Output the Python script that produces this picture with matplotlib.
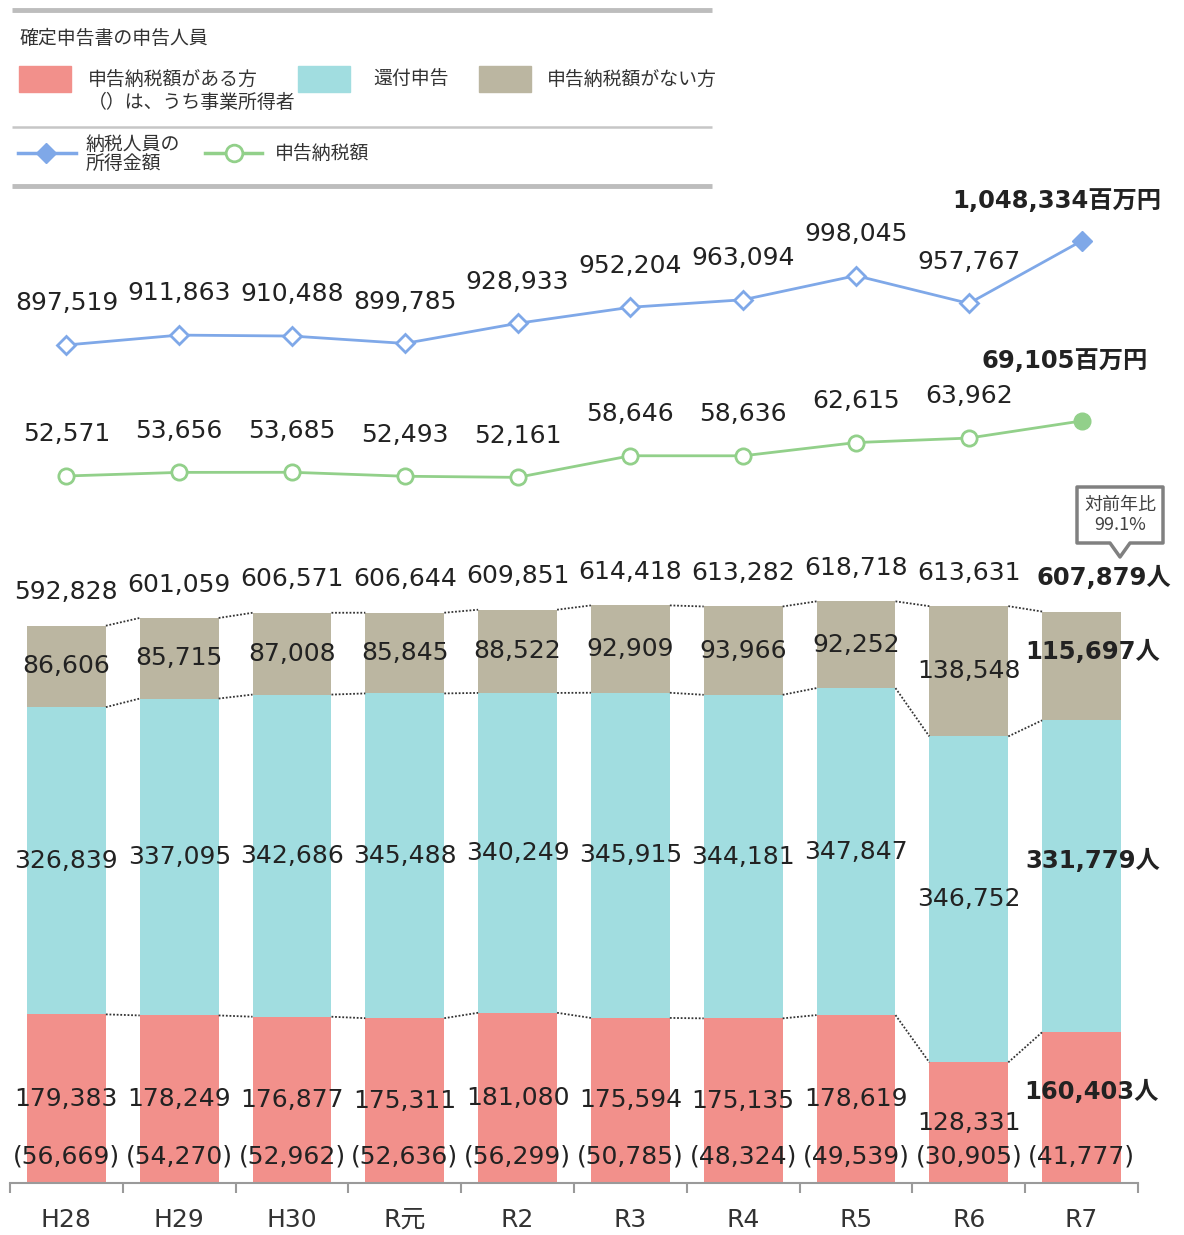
import matplotlib
matplotlib.use("Agg")
import matplotlib.pyplot as plt
from matplotlib.patches import Rectangle, Polygon
import numpy as np

plt.rcParams['font.family'] = ['DejaVu Sans', 'Noto Sans CJK JP']

# ---------------- data ----------------
years = ['H28', 'H29', 'H30', 'R元', 'R2', 'R3', 'R4', 'R5', 'R6', 'R7']
tax_payers = [179383, 178249, 176877, 175311, 181080, 175594, 175135, 178619, 128331, 160403]
business = [56669, 54270, 52962, 52636, 56299, 50785, 48324, 49539, 30905, 41777]
refund = [326839, 337095, 342686, 345488, 340249, 345915, 344181, 347847, 346752, 331779]
no_tax = [86606, 85715, 87008, 85845, 88522, 92909, 93966, 92252, 138548, 115697]
totals = [592828, 601059, 606571, 606644, 609851, 614418, 613282, 618718, 613631, 607879]
income = [897519, 911863, 910488, 899785, 928933, 952204, 963094, 998045, 957767, 1048334]
tax_amount = [52571, 53656, 53685, 52493, 52161, 58646, 58636, 62615, 63962, 69105]
yoy_text = '対前年比\n99.1%'

# ---------------- styles ----------------
PINK = '#F2908B'
CYAN = '#A1DDE0'
TAN = '#BBB6A1'
BLUE = '#7FA8E8'
GREEN = '#92D08A'
TXT = '#222222'
W, H = 1184, 1235
fig = plt.figure(figsize=(W / 100, H / 100), dpi=100)


def ax_px(left, top, right, bottom, **kw):
    return fig.add_axes([left / W, 1 - bottom / H, (right - left) / W, (bottom - top) / H], **kw)


n = len(years)
x = np.arange(n)

# ---------------- bars ----------------
axb = ax_px(10, 540, 1138, 1183)
axb.set_xlim(-0.5, n - 0.5)
axb.set_ylim(0, 684000)
bw = 0.70
p = np.array(tax_payers)
r = np.array(refund)
g = np.array(no_tax)
axb.bar(x, p, bw, color=PINK, zorder=2)
axb.bar(x, r, bw, bottom=p, color=CYAN, zorder=2)
axb.bar(x, g, bw, bottom=p + r, color=TAN, zorder=2)

levels = [p, p + r, p + r + g]
for lev in levels:
    for i in range(n - 1):
        axb.plot([x[i] + bw / 2, x[i + 1] - bw / 2], [lev[i], lev[i + 1]],
                 color='#333333', lw=1.3, ls=(0, (1, 1)), zorder=3)

fs = 18
fsb = 17.5
for i in range(n):
    last = (i == n - 1)
    if not last:
        axb.text(x[i], p[i] / 2, f'{p[i]:,}', ha='center', va='center', fontsize=fs, color=TXT, zorder=4)
        axb.text(x[i], p[i] + r[i] / 2, f'{r[i]:,}', ha='center', va='center', fontsize=fs, color=TXT, zorder=4)
        axb.text(x[i], p[i] + r[i] + g[i] / 2, f'{g[i]:,}', ha='center', va='center', fontsize=fs, color=TXT, zorder=4)
        axb.annotate(f'{totals[i]:,}', (x[i], totals[i]), xytext=(0, 24), textcoords='offset points',
                     ha='center', va='center', fontsize=fs, color=TXT)
    else:
        axb.annotate(f'{p[i]:,}人', (x[i] + 0.09, p[i] / 2), xytext=(0, 11), textcoords='offset points',
                     ha='center', va='center', fontsize=fsb, fontweight='bold', color=TXT, zorder=4)
        axb.annotate(f'{r[i]:,}人', (x[i] + 0.1, p[i] + r[i] / 2), xytext=(0, 11), textcoords='offset points',
                     ha='center', va='center', fontsize=fsb, fontweight='bold', color=TXT, zorder=4)
        axb.annotate(f'{g[i]:,}人', (x[i] + 0.1, p[i] + r[i] + g[i] / 2), xytext=(0, 10), textcoords='offset points',
                     ha='center', va='center', fontsize=fsb, fontweight='bold', color=TXT, zorder=4)
        axb.annotate(f'{totals[i]:,}人', (x[i] + 0.2, totals[i]), xytext=(0, 24), textcoords='offset points',
                     ha='center', va='center', fontsize=fsb, fontweight='bold', color=TXT)
    axb.annotate(f'({business[i]:,})', (x[i], 0), xytext=(0, 19), textcoords='offset points',
                 ha='center', va='center', fontsize=fs, color=TXT, zorder=4)

for s in ['top', 'right', 'left']:
    axb.spines[s].set_visible(False)
axb.spines['bottom'].set_color('#9a9a9a')
axb.spines['bottom'].set_linewidth(1.5)
axb.set_yticks([])
axb.set_xticks(np.arange(-0.5, n, 1.0))
axb.set_xticklabels([])
axb.tick_params(axis='x', which='major', length=7, width=1.5, color='#9a9a9a', direction='out')
axb.set_xticks(x, minor=True)
axb.set_xticklabels(years, minor=True)
axb.tick_params(axis='x', which='minor', length=0, pad=18, labelsize=18, labelcolor='#333333')

# ---------------- lines ----------------
def line_axes(top, bottom, ylim):
    a = ax_px(10, top, 1138, bottom)
    a.set_xlim(-0.5, n - 0.5)
    a.set_ylim(*ylim)
    a.axis('off')
    a.patch.set_alpha(0)
    return a

axl1 = line_axes(190, 390, (832300, 1122150))
axl1.plot(x, income, color=BLUE, lw=2, zorder=2)
axl1.plot(x[:-1], income[:-1], ls='none', marker='D', ms=9, mfc='white', mec=BLUE, mew=2, zorder=3)
axl1.plot(x[-1:], income[-1:], ls='none', marker='D', ms=10, mfc=BLUE, mec=BLUE, zorder=3)
for i in range(n):
    if i < n - 1:
        axl1.annotate(f'{income[i]:,}', (x[i], income[i]), xytext=(0, 30), textcoords='offset points',
                      ha='center', va='center', fontsize=fs, color=TXT)
    else:
        axl1.annotate(f'{income[i]:,}百万円', (x[i], income[i]), xytext=(-18, 29), textcoords='offset points',
                      ha='center', va='center', fontsize=fsb, fontweight='bold', color=TXT)

axl2 = line_axes(395, 500, (45360, 76900))
axl2.plot(x, tax_amount, color=GREEN, lw=2, zorder=2)
axl2.plot(x[:-1], tax_amount[:-1], ls='none', marker='o', ms=11, mfc='white', mec=GREEN, mew=2, zorder=3)
axl2.plot(x[-1:], tax_amount[-1:], ls='none', marker='o', ms=12, mfc=GREEN, mec=GREEN, zorder=3)
for i in range(n):
    if i < n - 1:
        axl2.annotate(f'{tax_amount[i]:,}', (x[i], tax_amount[i]), xytext=(0, 30), textcoords='offset points',
                      ha='center', va='center', fontsize=fs, color=TXT)
    else:
        axl2.annotate(f'{tax_amount[i]:,}百万円', (x[i], tax_amount[i]), xytext=(-12, 43), textcoords='offset points',
                      ha='center', va='center', fontsize=fsb, fontweight='bold', color=TXT)

# ---------------- overlay (legend + callout) ----------------
ov = fig.add_axes([0, 0, 1, 1])
ov.set_xlim(0, W)
ov.set_ylim(H, 0)
ov.axis('off')
ov.patch.set_alpha(0)

jp = ['Noto Sans CJK JP', 'DejaVu Sans']
LC = '#333333'
lfs = 13.6
ov.plot([12, 712], [10, 10], color='#BDBDBD', lw=3.5, solid_capstyle='butt')
ov.plot([12, 712], [127, 127], color='#C6C6C6', lw=1.8, solid_capstyle='butt')
ov.plot([12, 712], [186, 186], color='#BDBDBD', lw=3.5, solid_capstyle='butt')
ov.text(20, 38, '確定申告書の申告人員', family=jp, fontsize=lfs, color=LC, va='center', ha='left')
ov.add_patch(Rectangle((19, 66), 52, 26, color=PINK))
ov.add_patch(Rectangle((298, 66), 52, 26, color=CYAN))
ov.add_patch(Rectangle((479, 66), 52, 26, color=TAN))
ov.text(88, 79, '申告納税額がある方', family=jp, fontsize=lfs, color=LC, va='center', ha='left')
ov.text(88, 102, '（）は、うち事業所得者', family=jp, fontsize=lfs, color=LC, va='center', ha='left')
ov.text(373, 79, '還付申告', family=jp, fontsize=lfs, color=LC, va='center', ha='left')
ov.text(547, 79, '申告納税額がない方', family=jp, fontsize=lfs, color=LC, va='center', ha='left')
ov.plot([18, 76], [153, 153], color=BLUE, lw=2.5)
ov.plot([46], [153], marker='D', ms=10, mfc=BLUE, mec=BLUE)
ov.text(86, 144, '納税人員の', family=jp, fontsize=lfs, color=LC, va='center', ha='left')
ov.text(86, 163, '所得金額', family=jp, fontsize=lfs, color=LC, va='center', ha='left')
ov.plot([205, 262], [153, 153], color=GREEN, lw=2.5)
ov.plot([234], [153], marker='o', ms=12, mfc='white', mec=GREEN, mew=2)
ov.text(275, 153, '申告納税額', family=jp, fontsize=lfs, color=LC, va='center', ha='left')

callout = Polygon([(1077, 487), (1163, 487), (1163, 543), (1130, 543), (1120, 557), (1110, 543), (1077, 543)],
                  closed=True, facecolor='white', edgecolor='#808080', lw=2.5, joinstyle='round')
ov.add_patch(callout)
ov.text(1120, 515, yoy_text, family=jp, fontsize=13, color='#404040', ha='center', va='center', linespacing=1.2)

fig.savefig('out.png', dpi=100)
